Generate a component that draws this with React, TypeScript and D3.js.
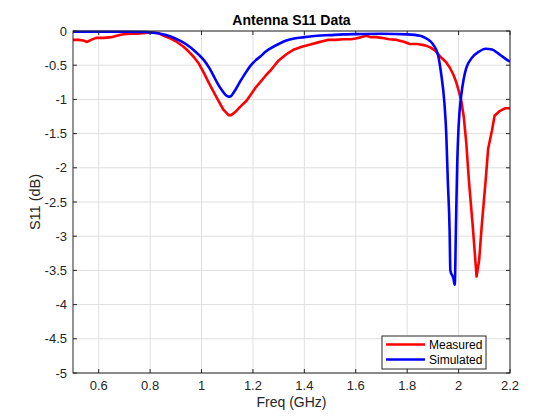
import React from "react";
import * as d3 from "d3";

const measuredFreq = [0.5, 0.52, 0.54, 0.555, 0.57, 0.59, 0.62, 0.65, 0.67, 0.69, 0.72, 0.75, 0.78, 0.8, 0.83, 0.86, 0.88, 0.9, 0.93, 0.95, 0.97, 0.99, 1.01, 1.03, 1.06, 1.085, 1.105, 1.115, 1.13, 1.15, 1.175, 1.19, 1.21, 1.23, 1.25, 1.27, 1.3, 1.33, 1.36, 1.39, 1.42, 1.45, 1.49, 1.52, 1.55, 1.58, 1.6, 1.62, 1.64, 1.66, 1.68, 1.7, 1.73, 1.76, 1.79, 1.81, 1.84, 1.87, 1.89, 1.91, 1.93, 1.95, 1.965, 1.98, 1.99, 2.0, 2.01, 2.02, 2.03, 2.04, 2.055, 2.07, 2.08, 2.09, 2.105, 2.115, 2.13, 2.14, 2.16, 2.18, 2.2];
const measuredS11 = [-0.13, -0.13, -0.14, -0.16, -0.13, -0.1, -0.1, -0.09, -0.07, -0.05, -0.04, -0.04, -0.03, -0.02, -0.03, -0.08, -0.11, -0.15, -0.23, -0.3, -0.38, -0.48, -0.62, -0.77, -0.98, -1.15, -1.23, -1.23, -1.19, -1.11, -1.02, -0.94, -0.83, -0.74, -0.65, -0.57, -0.43, -0.34, -0.27, -0.23, -0.2, -0.17, -0.13, -0.13, -0.12, -0.12, -0.11, -0.09, -0.07, -0.09, -0.09, -0.1, -0.12, -0.13, -0.16, -0.19, -0.19, -0.21, -0.24, -0.29, -0.38, -0.45, -0.53, -0.64, -0.74, -0.87, -1.01, -1.25, -1.64, -2.18, -2.85, -3.59, -3.35, -2.85, -2.2, -1.72, -1.45, -1.24, -1.17, -1.13, -1.13];

const simulatedFreq = [0.5, 0.6, 0.7, 0.78, 0.8, 0.84, 0.88, 0.91, 0.93, 0.95, 0.97, 0.99, 1.01, 1.03, 1.045, 1.06, 1.08, 1.095, 1.105, 1.115, 1.125, 1.15, 1.17, 1.19, 1.21, 1.23, 1.25, 1.27, 1.3, 1.33, 1.36, 1.4, 1.45, 1.5, 1.55, 1.6, 1.7, 1.8, 1.85, 1.87, 1.89, 1.905, 1.92, 1.932, 1.945, 1.952, 1.958, 1.965, 1.968, 1.98, 1.985, 1.99, 1.995, 2.0, 2.01, 2.02, 2.03, 2.05, 2.08, 2.105, 2.13, 2.155, 2.18, 2.2];
const simulatedS11 = [-0.01, -0.01, -0.01, -0.015, -0.02, -0.04, -0.08, -0.13, -0.17, -0.22, -0.28, -0.35, -0.43, -0.54, -0.64, -0.75, -0.87, -0.94, -0.96, -0.95, -0.9, -0.74, -0.62, -0.51, -0.43, -0.37, -0.3, -0.25, -0.19, -0.14, -0.11, -0.09, -0.07, -0.06, -0.05, -0.045, -0.04, -0.05, -0.07, -0.1, -0.15, -0.22, -0.35, -0.62, -1.06, -1.5, -2.18, -2.91, -3.5, -3.62, -3.71, -2.8, -1.9, -1.4, -0.95, -0.7, -0.54, -0.4, -0.3, -0.26, -0.27, -0.33, -0.4, -0.45];

const xTicks = [0.6, 0.8, 1, 1.2, 1.4, 1.6, 1.8, 2, 2.2];
const yTicks = [0, -0.5, -1, -1.5, -2, -2.5, -3, -3.5, -4, -4.5, -5];
const seriesNames = ["Measured", "Simulated"];
const seriesColors = ["#ff0000", "#0000ff"];

const W = 560;
const H = 420;
const L = 73;
const R = 510;
const T = 31;
const B = 373;
const FONT = "'Liberation Sans', Arial, Helvetica, sans-serif";
const AX = "#262626";

export default function App() {
  const x = d3.scaleLinear().domain([0.5, 2.2]).range([L, R]);
  const y = d3.scaleLinear().domain([-5, 0]).range([B, T]);

  const measured = measuredFreq.map((f, i) => [f, measuredS11[i]] as [number, number]);
  const simulated = simulatedFreq.map((f, i) => [f, simulatedS11[i]] as [number, number]);

  const lineLin = d3.line<[number, number]>().x((d) => x(d[0])).y((d) => y(d[1]));
  const lineSmooth = d3
    .line<[number, number]>()
    .x((d) => x(d[0]))
    .y((d) => y(d[1]))
    .curve(d3.curveMonotoneX);

  const fmt = (v: number) => (v === 0 ? "0" : String(v));
  const tick = 4;

  const legX = 382;
  const legY = 336;

  return (
    <svg
      width={W}
      height={H}
      style={{ position: "absolute", left: 0, top: 0, background: "#fff" }}
      fontFamily={FONT}
    >
      <rect x={0} y={0} width={W} height={H} fill="#fff" />
      <defs>
        <clipPath id="plotclip">
          <rect x={L} y={T - 2} width={R - L} height={B - T + 4} />
        </clipPath>
      </defs>
      {xTicks.map((t) => (
        <line key={"gx" + t} x1={x(t)} x2={x(t)} y1={T} y2={B} stroke="#dfdfdf" strokeWidth={1} />
      ))}
      {yTicks.map((t) => (
        <line key={"gy" + t} x1={L} x2={R} y1={y(t)} y2={y(t)} stroke="#dfdfdf" strokeWidth={1} />
      ))}
      <g clipPath="url(#plotclip)">
        <path d={lineLin(measured) || ""} fill="none" stroke={seriesColors[0]} strokeWidth={2.6} strokeLinejoin="round" />
        <path d={lineSmooth(simulated) || ""} fill="none" stroke={seriesColors[1]} strokeWidth={2.6} strokeLinejoin="round" />
      </g>
      <rect x={L} y={T} width={R - L} height={B - T} fill="none" stroke={AX} strokeWidth={1} />
      {xTicks.map((t) => (
        <g key={"tx" + t}>
          <line x1={x(t)} x2={x(t)} y1={B} y2={B - tick} stroke={AX} />
          <line x1={x(t)} x2={x(t)} y1={T} y2={T + tick} stroke={AX} />
          <text x={x(t)} y={390} textAnchor="middle" fontSize={13} fill={AX}>
            {fmt(t)}
          </text>
        </g>
      ))}
      {yTicks.map((t) => (
        <g key={"ty" + t}>
          <line x1={L} x2={L + tick} y1={y(t)} y2={y(t)} stroke={AX} />
          <line x1={R} x2={R - tick} y1={y(t)} y2={y(t)} stroke={AX} />
          <text x={67} y={y(t)} dy="0.35em" textAnchor="end" fontSize={13} fill={AX}>
            {fmt(t)}
          </text>
        </g>
      ))}
      <text x={(L + R) / 2} y={25} textAnchor="middle" fontSize={14} fontWeight="bold" fill="#000">
        Antenna S11 Data
      </text>
      <text x={(L + R) / 2} y={407} textAnchor="middle" fontSize={14} fill={AX}>
        Freq (GHz)
      </text>
      <text
        transform={`translate(40,${(T + B) / 2}) rotate(-90)`}
        textAnchor="middle"
        fontSize={14.5}
        fill={AX}
      >
        S11 (dB)
      </text>
      <rect x={legX} y={legY} width={104} height={33} fill="#fff" stroke={AX} strokeWidth={1} />
      {seriesNames.map((name, i) => (
        <g key={name}>
          <line
            x1={legX + 4}
            x2={legX + 43}
            y1={legY + 8.5 + i * 15}
            y2={legY + 8.5 + i * 15}
            stroke={seriesColors[i]}
            strokeWidth={2.6}
          />
          <text x={legX + 47} y={legY + 8.5 + i * 15} dy="0.35em" fontSize={12} fill="#000">
            {name}
          </text>
        </g>
      ))}
    </svg>
  );
}
